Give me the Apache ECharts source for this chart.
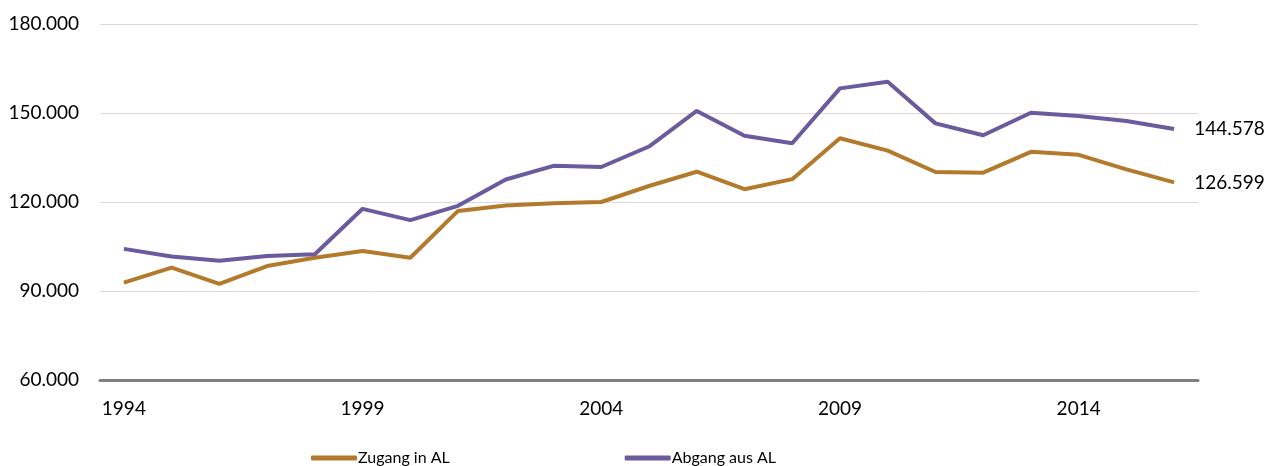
<!DOCTYPE html>
<html>
<head>
<meta charset="utf-8">
<script src="https://cdn.jsdelivr.net/npm/echarts@6/dist/echarts.min.js"></script>
<style>
  html, body { margin: 0; padding: 0; background: #fff; }
  #chart { width: 1267px; height: 466px; }
</style>
</head>
<body>
<div id="chart"></div>
<script>
// Jahre 1994 - 2016
const years = ['1994', '1995', '1996', '1997', '1998', '1999', '2000', '2001', '2002', '2003', '2004', '2005',
  '2006', '2007', '2008', '2009', '2010', '2011', '2012', '2013', '2014', '2015', '2016']

const zugang = [92800, 97900, 92400, 98400, 101200, 103500, 101200, 117000, 118800, 119600, 120000, 125400,
  130200, 124300, 127700, 141500, 137300, 130100, 129900, 136900, 135900, 131000, 126599]

const abgang = [104200, 101600, 100200, 101800, 102400, 117700, 113900, 118700, 127600, 132200, 131800, 138700,
  150700, 142300, 139800, 158300, 160500, 146500, 142500, 150100, 149000, 147300, 144578]

const fontFamily = 'Lato, "Open Sans", sans-serif'

const fmt = (v) => String(v).replace(/\B(?=(\d{3})+(?!\d))/g, '.')

const chart = echarts.init(document.getElementById('chart'))

// Wert am Linienende
const endLabel = {
  show: true,
  distance: 20,
  color: '#000',
  fontSize: 19,
  fontFamily,
  formatter: (p) => fmt(p.value)
}

chart.setOption({
  animation: false,
  grid: { left: 100, right: 69, top: 24, bottom: 86 },
  legend: {
    top: 445,
    left: 306,
    itemGap: 175,
    itemWidth: 46,
    itemHeight: 5,
    icon: 'roundRect',
    textStyle: { fontSize: 16, fontFamily, color: '#000', padding: [0, 0, 0, -4] },
    data: ['Zugang in AL', 'Abgang aus AL']
  },
  xAxis: {
    type: 'category',
    data: years,
    boundaryGap: true,
    axisLine: { lineStyle: { color: '#808080', width: 3 } },
    axisTick: { show: false },
    axisLabel: {
      interval: 4,
      margin: 19,
      fontSize: 19,
      fontFamily,
      color: '#000'
    }
  },
  yAxis: {
    type: 'value',
    min: 60000,
    max: 180000,
    interval: 30000,
    axisLine: { show: false },
    axisTick: { show: false },
    splitLine: { lineStyle: { color: '#d9d9d9', width: 1 } },
    axisLabel: {
      margin: 21,
      fontSize: 19,
      fontFamily,
      color: '#000',
      formatter: fmt
    }
  },
  series: [
    {
      name: 'Zugang in AL',
      type: 'line',
      data: zugang,
      symbol: 'none',
      color: '#B47A2C',
      lineStyle: { width: 4, color: '#B47A2C' },
      endLabel,
      z: 3
    },
    {
      name: 'Abgang aus AL',
      type: 'line',
      data: abgang,
      symbol: 'none',
      color: '#6A5A9E',
      lineStyle: { width: 4, color: '#6A5A9E' },
      endLabel,
      z: 4
    }
  ]
})
</script>
</body>
</html>
